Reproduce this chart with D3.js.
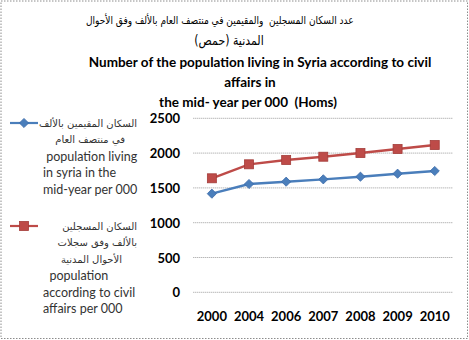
<!DOCTYPE html>
<html>
<head>
<meta charset="utf-8">
<script src="https://cdn.jsdelivr.net/npm/d3@7"></script>
<style>
  html, body { margin: 0; padding: 0; background: #fff; }
  svg { display: block; }
  .en { font-family: Lato, "Open Sans", "Liberation Sans", sans-serif; }
  .ar { font-family: "DejaVu Sans", "Noto Sans", sans-serif; }
</style>
</head>
<body>
<script>
// Years on the category axis
const years = ["2000", "2004", "2006", "2007", "2008", "2009", "2010"];
// Population living in Homs at mid-year (thousands)
const livingValues = [1417, 1556, 1589, 1623, 1661, 1704, 1743];
// Population registered in civil affairs records (thousands)
const registeredValues = [1638, 1839, 1901, 1948, 2001, 2059, 2116];
// Value-axis ticks
const yTicks = [0, 500, 1000, 1500, 2000, 2500];

// Title lines; the long Arabic line is fitted between a left and right edge
const titleLines = [
  { text: "عدد السكان المسجلين  والمقيمين في منتصف العام بالألف وفق الأحوال", cls: "ar", left: 86, right: 354, y: 24, size: 11, weight: "normal", stretch: 1.2 },
  { text: "المدنية (حمص)", cls: "ar", x: 229, y: 45, size: 11, weight: "normal", stretch: 1.2 },
  { text: "Number of the population living in Syria according to civil", cls: "en", x: 260, y: 67, size: 13.5, weight: "bold" },
  { text: "affairs in", cls: "en", x: 250, y: 87, size: 13.5, weight: "bold" },
  { text: "the mid- year per 000  (Homs)", cls: "en", x: 248, y: 107, size: 13.5, weight: "bold" }
];

const legendItems = [
  {
    color: "#4A7EBB", marker: "diamond", y: 123,
    lines: [
      { t: "السكان المقيمين بالألف", ar: true, x: 137 },
      { t: "في منتصف العام", ar: true, x: 125 },
      { t: " population living", ar: false, x: 43 },
      { t: "in syria in the", ar: false, x: 43 },
      { t: "mid-year per 000", ar: false, x: 43 }
    ]
  },
  {
    color: "#BE4B48", marker: "square", y: 226,
    lines: [
      { t: "السكان المسجلين", ar: true, x: 137 },
      { t: "بالألف وفق سجلات", ar: true, x: 137 },
      { t: "الأحوال المدنية", ar: true, x: 122 },
      { t: "  population", ar: false, x: 43 },
      { t: "according to civil", ar: false, x: 43 },
      { t: "affairs per 000", ar: false, x: 43 }
    ]
  }
];

const W = 469, H = 340;
const svg = d3.select("body").append("svg").attr("width", W).attr("height", H);

// Outer dotted frame
svg.append("rect")
  .attr("x", 1).attr("y", 1).attr("width", W - 2.5).attr("height", H - 2.5)
  .attr("fill", "#fff").attr("stroke", "#8c8c8c").attr("stroke-width", 1)
  .attr("stroke-dasharray", "1.5,1.5");

// Title
titleLines.forEach(l => {
  const t = svg.append("text")
    .attr("class", l.cls)
    .attr("y", l.y)
    .attr("font-size", l.size)
    .attr("font-weight", l.weight)
    .attr("fill", "#000")
    .attr("xml:space", "preserve")
    .style("white-space", "pre")
    .text(l.text);
  if (l.left !== undefined) {
    // fit the line to its span, then shift it into place
    t.attr("x", 0).attr("text-anchor", "start");
    let b = t.node().getBBox();
    const fs = l.size * (l.right - l.left) / b.width;
    t.attr("font-size", fs);
    b = t.node().getBBox();
    t.attr("x", l.left - b.x);
  } else {
    t.attr("x", l.x).attr("text-anchor", "middle");
  }
  if (l.stretch) {
    // taller glyphs, anchored on the baseline
    t.attr("transform", `translate(0,${l.y}) scale(1,${l.stretch}) translate(0,${-l.y})`);
  }
});

// Plot area
const plot = { left: 193.3, right: 453.3, top: 118.3, bottom: 292.3 };

const x = d3.scaleBand().domain(years).range([plot.left, plot.right]);
const y = d3.scaleLinear().domain([0, 2500]).range([plot.bottom, plot.top]);

// Horizontal gridlines
svg.append("g")
  .selectAll("line")
  .data(yTicks)
  .join("line")
  .attr("x1", plot.left).attr("x2", plot.right)
  .attr("y1", d => y(d)).attr("y2", d => y(d))
  .attr("stroke", "#9a9a9a").attr("stroke-width", 1)
  .attr("stroke-dasharray", "1,1");

// Value axis labels
const yAxis = d3.axisLeft(y).tickValues(yTicks).tickSize(0).tickPadding(0).tickFormat(d3.format("d"));
const yg = svg.append("g").attr("transform", `translate(${180},0)`).call(yAxis);
yg.select(".domain").remove();
yg.selectAll("text")
  .attr("class", "en")
  .attr("font-size", 13).attr("font-weight", "bold").attr("fill", "#000")
  .attr("dy", "0.35em");

// Category axis labels
const xAxis = d3.axisBottom(x).tickSize(0).tickPadding(0);
const xg = svg.append("g").attr("transform", `translate(0,${316})`).call(xAxis);
xg.select(".domain").remove();
xg.selectAll("text")
  .attr("class", "en")
  .attr("font-size", 13).attr("font-weight", "bold").attr("fill", "#000")
  .attr("dy", "0.35em");

const cx = d => x(d) + x.bandwidth() / 2;

function drawMarker(g, type, px, py, color) {
  if (type === "diamond") {
    const s = 4.6;
    g.append("path")
      .attr("d", `M${px},${py - s}L${px + s},${py}L${px},${py + s}L${px - s},${py}Z`)
      .attr("fill", color).attr("stroke", "#3a6aa8").attr("stroke-width", 0.8);
  } else {
    const s = 4.5;
    g.append("rect")
      .attr("x", px - s).attr("y", py - s).attr("width", 2 * s).attr("height", 2 * s)
      .attr("fill", color).attr("stroke", "#a33c39").attr("stroke-width", 0.8);
  }
}

const series = [
  { values: registeredValues, color: "#BE4B48", marker: "square" },
  { values: livingValues, color: "#4A7EBB", marker: "diamond" }
];

const line = d3.line().x(d => cx(d.year)).y(d => y(d.value));

series.forEach(s => {
  const pts = years.map((yr, i) => ({ year: yr, value: s.values[i] }));
  svg.append("path")
    .datum(pts)
    .attr("d", line)
    .attr("fill", "none")
    .attr("stroke", s.color)
    .attr("stroke-width", 2.4);
  const g = svg.append("g");
  pts.forEach(p => drawMarker(g, s.marker, cx(p.year), y(p.value), s.color));
});

// Legend
legendItems.forEach(item => {
  const g = svg.append("g");
  g.append("line")
    .attr("x1", 10).attr("x2", 38)
    .attr("y1", item.y).attr("y2", item.y)
    .attr("stroke", item.color).attr("stroke-width", 2.2);
  drawMarker(g, item.marker, 24, item.y, item.color);
  item.lines.forEach((l, i) => {
    g.append("text")
      .attr("class", l.ar ? "ar" : "en")
      .attr("x", l.x)
      .attr("y", item.y + i * 16.6)
      .attr("dy", "0.35em")
      .attr("text-anchor", l.ar ? "end" : "start")
      .attr("font-size", l.ar ? 10 : 12.5)
      .attr("fill", "#333")
      .attr("xml:space", "preserve")
      .style("white-space", "pre")
      .text(l.t);
  });
});
</script>
</body>
</html>
